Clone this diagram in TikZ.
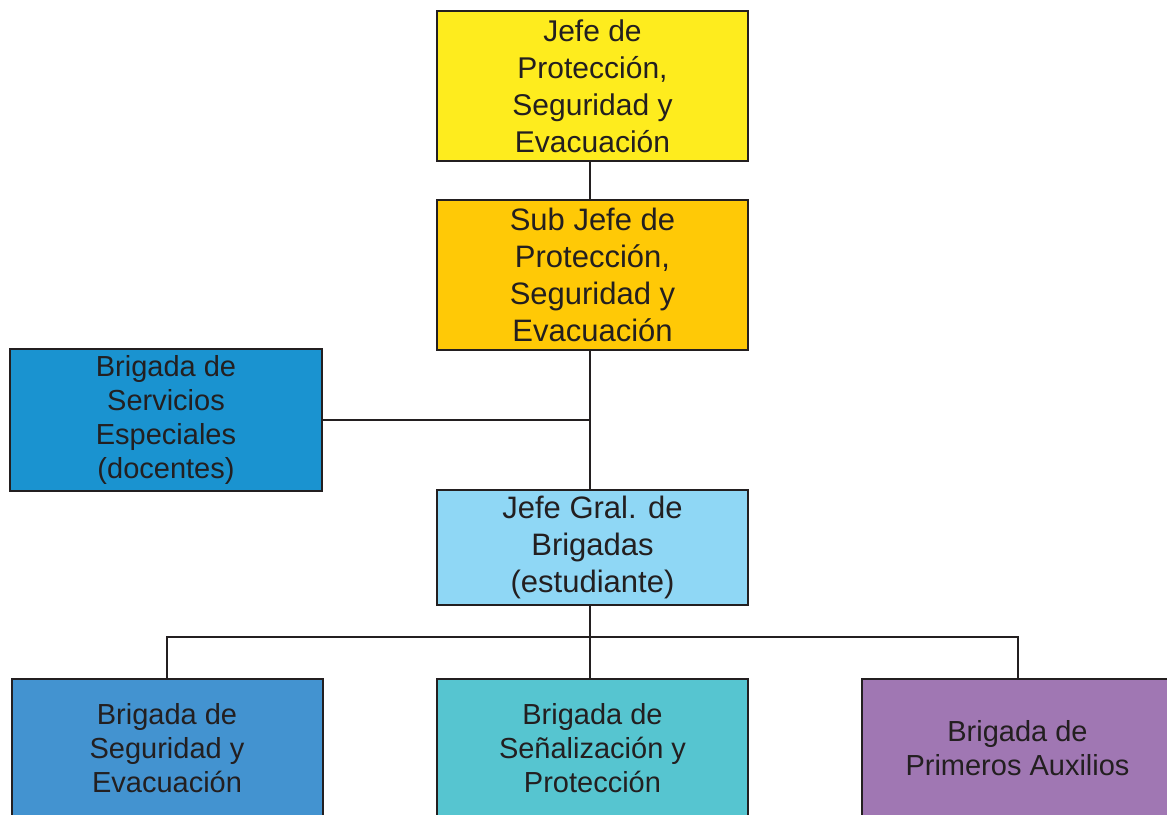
\documentclass[tikz,border=0pt]{standalone}
\usepackage{fontspec}
\setmainfont{Liberation Sans}
\definecolor{cTop}{HTML}{FEEC1E}
\definecolor{cSub}{HTML}{FFC906}
\definecolor{cServ}{HTML}{1A93D0}
\definecolor{cGral}{HTML}{8FD7F5}
\definecolor{cBL}{HTML}{4393D0}
\definecolor{cBM}{HTML}{56C5D0}
\definecolor{cBR}{HTML}{A077B3}
\definecolor{cLine}{HTML}{231F20}
\begin{document}
\begin{tikzpicture}[x=1pt,y=-1pt,
  orgbox/.style={draw=cLine, line width=2pt, rectangle, minimum width=311pt, align=center, text=cLine, inner sep=0pt},
  big/.style={font=\fontsize{30}{37}\selectfont},
  mid/.style={font=\fontsize{29}{34}\selectfont},
  conn/.style={draw=cLine, line width=2pt}]
\useasboundingbox (0,0) rectangle (1167,814);
\node[orgbox, big, fill=cTop, minimum height=150pt] (top) at (592.5,86) {Jefe de\\Protección,\\Seguridad y\\Evacuación};
\node[orgbox, font=\fontsize{31}{37}\selectfont, fill=cSub, minimum height=150pt] (sub) at (592.5,275) {Sub Jefe de\\Protección,\\Seguridad y\\Evacuación};
\node[orgbox, mid, fill=cServ, minimum width=312pt, minimum height=142pt] (serv) at (166,420) {Brigada de\\Servicios\\Especiales\\(docentes)};
\node[orgbox, font=\fontsize{31}{37}\selectfont, fill=cGral, minimum height=115pt] (gral) at (592.5,547.5) {Jefe Gral. de\\Brigadas\\(estudiante)};
\node[orgbox, mid, fill=cBL, minimum height=138pt] (bl) at (167,748) {Brigada de\\Seguridad y\\Evacuación};
\node[orgbox, mid, fill=cBM, minimum height=138pt] (bm) at (592.5,748) {Brigada de\\Señalización y\\Protección};
\node[orgbox, mid, fill=cBR, minimum height=138pt] (br) at (1017.5,748) {Brigada de\\Primeros Auxilios};
\coordinate (bus) at (590,637);
\draw[conn] ([xshift=-2.5pt]top.south) -- ([xshift=-2.5pt]sub.north);
\draw[conn] ([xshift=-2.5pt]sub.south) -- ([xshift=-2.5pt]gral.north);
\draw[conn] (serv.east) -- (serv.east -| bus);
\draw[conn] ([xshift=-2.5pt]gral.south) -- ([xshift=-2.5pt]bm.north);
\draw[conn] (bl.north) |- (bus) -| (br.north);
\end{tikzpicture}
\end{document}
